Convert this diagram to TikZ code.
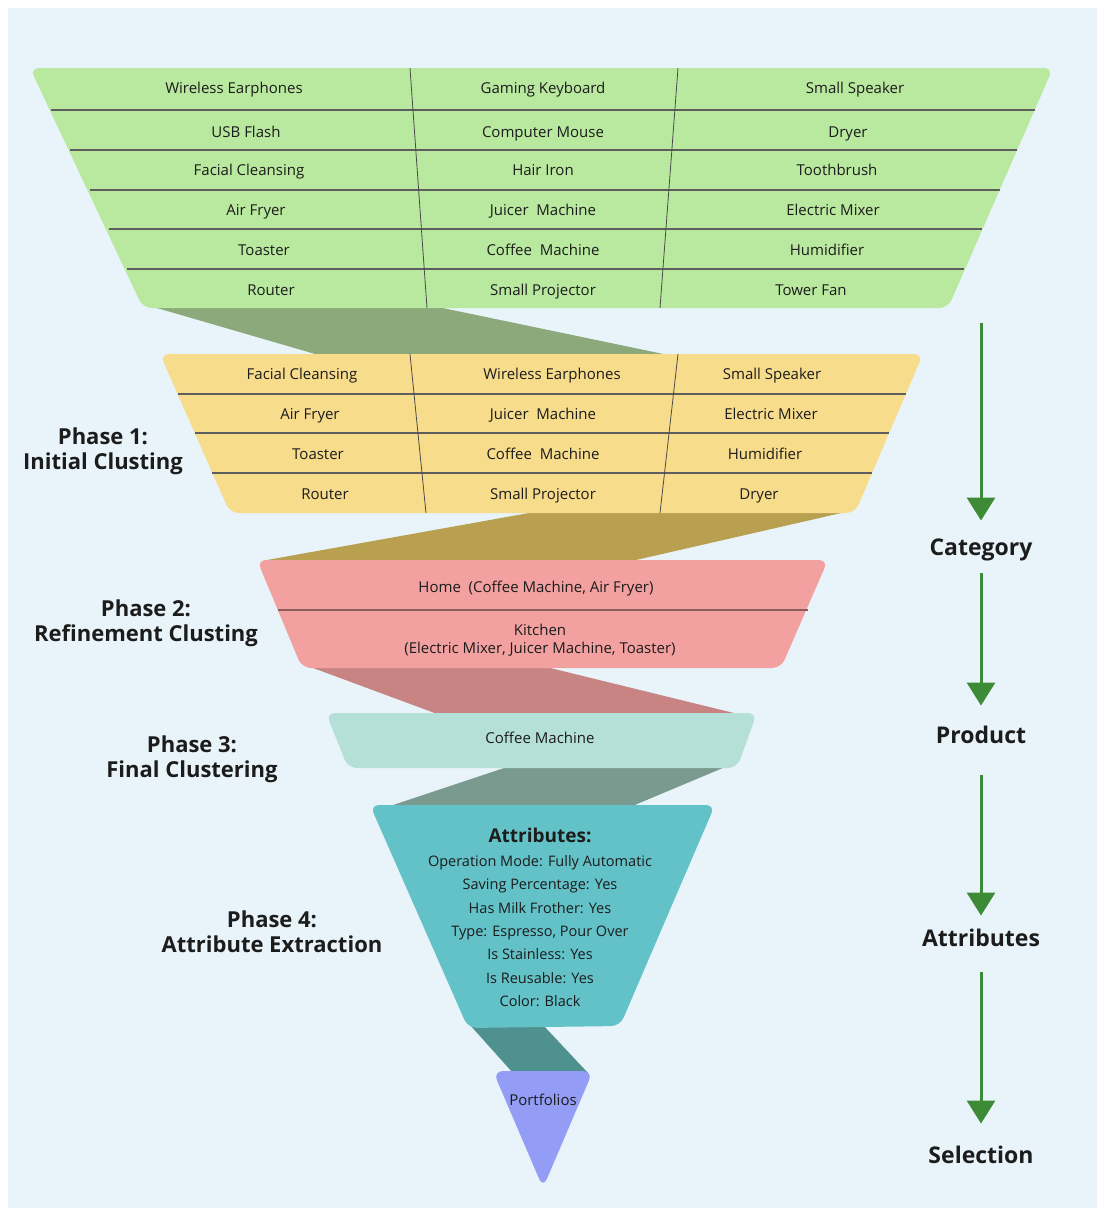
\documentclass[tikz,border=0pt]{standalone}
\usepackage{fontspec}
\setmainfont{Open Sans}
\usetikzlibrary{arrows.meta}
\definecolor{bgblue}{HTML}{E8F4FA}
\definecolor{greenfill}{HTML}{B9E89F}
\definecolor{greenband}{HTML}{8BA97A}
\definecolor{yellowfill}{HTML}{F7DC8B}
\definecolor{oliveband}{HTML}{B9A050}
\definecolor{redfill}{HTML}{F2A1A0}
\definecolor{redband}{HTML}{C78483}
\definecolor{mintfill}{HTML}{B5E0D7}
\definecolor{mintband}{HTML}{7A9A90}
\definecolor{tealfill}{HTML}{63C1C8}
\definecolor{tealband}{HTML}{4F918F}
\definecolor{purplefill}{HTML}{939DF5}
\definecolor{arrowgreen}{HTML}{3D8B37}
\definecolor{ink}{HTML}{1C1C1C}
\definecolor{rowgray}{HTML}{5E5E5E}
\begin{document}
\begin{tikzpicture}[x=1pt,y=-1pt,
    block/.style={rounded corners=9pt},
    rowline/.style={draw=rowgray,line width=1.1pt},
    colline/.style={draw=rowgray!80!black,line width=0.8pt},
    item/.style={font=\fontsize{15}{18}\selectfont,text=ink,inner sep=0pt,
      text height=10.7pt,text depth=0pt},
    phase/.style={font=\bfseries\fontsize{22}{25}\selectfont,align=center,
      text=ink,inner sep=0pt},
    stage/.style={font=\bfseries\fontsize{23}{26}\selectfont,text=ink,
      inner sep=0pt,text height=16.5pt,text depth=0pt},
    flow/.style={draw=arrowgreen,line width=3pt,
      -{Triangle[width=28pt,length=23pt]}}]
  % canvas
  \fill[white] (0,0) rectangle (1099,1210);
  \fill[bgblue] (8,8) rectangle (1097,1208);
  \useasboundingbox (0,0) rectangle (1099,1210);

  % bands between the stages
  \fill[greenband] (150,306) -- (433,306) -- (673,356) -- (322,356) -- cycle;
  \fill[oliveband] (540,511) -- (850,511) -- (636,560) -- (267,560) -- cycle;
  \fill[redband] (305,665) -- (538,665) -- (742,715) -- (440,715) -- cycle;
  \fill[mintband] (513,765) -- (730,765) -- (630,807) -- (387,807) -- cycle;
  \fill[tealband] (470,1025) -- (543,1025) -- (588,1073) -- (513,1073) -- cycle;

  % stages
  \fill[greenfill,block] (30,68) -- (1053,68) -- (948,308) -- (143,308) -- cycle;
  \fill[yellowfill,block] (160,354) -- (923,354) -- (855,513) -- (230,513) -- cycle;
  \fill[redfill,block] (257,560) -- (828,560) -- (781,668) -- (302,668) -- cycle;
  \fill[mintfill,block] (326,713) -- (757,713) -- (737,768) -- (348,768) -- cycle;
  \fill[tealfill,block] (370,805) -- (715,805) -- (620,1026) -- (468,1028) -- cycle;
  \fill[purplefill,rounded corners=10pt] (493,1071) -- (593,1071) -- (543,1188) -- cycle;

  % grid of the first two stages
  \begin{scope}[rowline]
    \draw (51,110) -- (1035,110);
    \draw (70,150) -- (1017,150);
    \draw (90,190) -- (1000,190);
    \draw (109,229) -- (982,229);
    \draw (127,269) -- (964,269);
    \draw (178,394) -- (906,394);
    \draw (195,433) -- (889,433);
    \draw (212,473) -- (872,473);
    \draw[draw=redband!70!black] (278,610) -- (808,610);
  \end{scope}
  \begin{scope}[colline]
    \draw (410,68) -- (427,308);
    \draw (678,68) -- (660,308);
    \draw (410,354) -- (426,513);
    \draw (678,354) -- (660,513);
  \end{scope}

  % all products
  \path[every node/.style={item}]
    (234,88) node (g1a) {Wireless Earphones}
    (543,88) node (g1b) {Gaming Keyboard}
    (855,88) node (g1c) {Small Speaker}
    (246,132) node (g2a) {USB Flash}
    (543,132) node (g2b) {Computer Mouse}
    (848,132) node (g2c) {Dryer}
    (249,170) node (g3a) {Facial Cleansing}
    (543,170) node (g3b) {Hair Iron}
    (837,170) node (g3c) {Toothbrush}
    (256,210) node (g4a) {Air Fryer}
    (543,210) node (g4b) {Juicer\ \ Machine}
    (833,210) node (g4c) {Electric Mixer}
    (264,250) node (g5a) {Toaster}
    (543,250) node (g5b) {Coffee\ \ Machine}
    (827,250) node (g5c) {Humidifier}
    (271,290) node (g6a) {Router}
    (543,290) node (g6b) {Small Projector}
    (811,290) node (g6c) {Tower Fan};

  % phase 1
  \path[every node/.style={item}]
    (302,374) node (y1a) {Facial Cleansing}
    (552,374) node (y1b) {Wireless Earphones}
    (772,374) node (y1c) {Small Speaker}
    (310,414) node (y2a) {Air Fryer}
    (543,414) node (y2b) {Juicer\ \ Machine}
    (771,414) node (y2c) {Electric Mixer}
    (318,454) node (y3a) {Toaster}
    (543,454) node (y3b) {Coffee\ \ Machine}
    (765,454) node (y3c) {Humidifier}
    (325,494) node (y4a) {Router}
    (543,494) node (y4b) {Small Projector}
    (759,494) node (y4c) {Dryer};

  % phase 2 to 4
  \node[item] (home) at (536,587) {Home\ \ (Coffee Machine, Air Fryer)};
  \node[item,text height=,text depth=,align=center,
    font=\fontsize{15}{18}\selectfont] (kitchen) at (540,640.5)
    {Kitchen\\(Electric Mixer, Juicer Machine, Toaster)};
  \node[item] (coffee) at (540,738) {Coffee Machine};
  \node[item,font=\bfseries\fontsize{19}{22}\selectfont,text height=13.6pt]
    (attrhead) at (540,836) {Attributes:};
  \node[item,text height=,text depth=,align=center,
    font=\fontsize{14.5}{23.4}\selectfont] (attrlist) at (540,931)
    {Operation Mode: Fully Automatic\\Saving Percentage: Yes\\
     Has Milk Frother: Yes\\Type: Espresso, Pour Over\\
     Is Stainless: Yes\\Is Reusable: Yes\\Color: Black};
  \node[item] (portf) at (543,1100) {Portfolios};

  % phase labels
  \node[phase] (ph1) at (103,451) {Phase 1:\\Initial Clusting};
  \node[phase] (ph2) at (146,623) {Phase 2:\\Refinement Clusting};
  \node[phase] (ph3) at (192,759) {Phase 3:\\Final Clustering};
  \node[phase] (ph4) at (272,932) {Phase 4:\\Attribute Extraction};

  % stages on the right
  \coordinate (start) at (981,323);
  \node[stage] (cat) at (981,547) {Category};
  \node[stage] (prod) at (981,735) {Product};
  \node[stage] (attr) at (981,938) {Attributes};
  \node[stage] (sel) at (981,1155) {Selection};
  \draw[flow,shorten >=18pt] (start) -- (cat);
  \draw[flow,shorten <=18pt,shorten >=21pt] (cat) -- (prod);
  \draw[flow,shorten <=32pt,shorten >=14pt] (prod) -- (attr);
  \draw[flow,shorten <=26pt,shorten >=23pt] (attr) -- (sel);
\end{tikzpicture}
\end{document}
